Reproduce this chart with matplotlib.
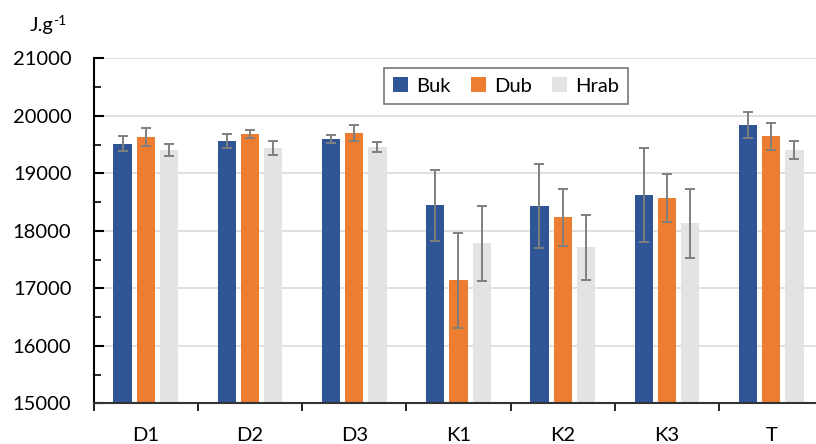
import numpy as np
import matplotlib.pyplot as plt

plt.rcParams['font.family'] = ['Lato', 'DejaVu Sans']

# Heating values per sample site and wood species
sites = ['D1', 'D2', 'D3', 'K1', 'K2', 'K3', 'T']
species = ['Buk', 'Dub', 'Hrab']

buk = [19510, 19561, 19596, 18440, 18428, 18626, 19839]
buk_err = [130, 125, 75, 615, 735, 820, 230]

dub = [19636, 19676, 19700, 17140, 18232, 18567, 19648]
dub_err = [155, 70, 135, 830, 495, 420, 235]

hrab = [19411, 19440, 19458, 17780, 17712, 18133, 19399]
hrab_err = [105, 115, 92, 655, 565, 600, 155]

colors = ['#2F5597', '#ED7D31', '#E3E3E3']

fig = plt.figure(figsize=(8.16, 4.44), dpi=100)
ax = fig.add_axes([0.1148, 0.0917, 0.8852, 0.777])

x = np.arange(len(sites))
step = 0.223
width = 0.175

for i, (vals, errs) in enumerate([(buk, buk_err), (dub, dub_err), (hrab, hrab_err)]):
    ax.bar(x + (i - 1) * step, vals, width, color=colors[i], label=species[i],
           zorder=2, bottom=0)
    ax.errorbar(x + (i - 1) * step, vals, yerr=errs, fmt='none', ecolor='#7F7F7F',
                elinewidth=1.4, capsize=3.3, capthick=1.4, zorder=3)

ax.set_ylim(15000, 21000)
ax.set_xlim(-0.5, 6.43)

ax.set_yticks(np.arange(15000, 21001, 1000))
ax.set_yticks(np.arange(15500, 21000, 1000), minor=True)
ax.tick_params(axis='y', which='major', direction='in', length=7, width=1.5,
               labelsize=14.5, pad=16)
ax.tick_params(axis='y', which='minor', direction='in', length=5, width=1.2)

ax.set_xticks(x)
ax.set_xticklabels(sites)
ax.set_xticks(np.arange(-0.5, 6.5, 1), minor=True)
ax.tick_params(axis='x', which='major', length=0, labelsize=14.5, pad=17)
ax.tick_params(axis='x', which='minor', direction='out', length=6, width=1.2)

ax.grid(axis='y', color='#D9D9D9', lw=1.2, zorder=0)
ax.set_axisbelow(True)

for s in ['top', 'right']:
    ax.spines[s].set_visible(False)
ax.spines['left'].set_linewidth(1.5)
ax.spines['bottom'].set_linewidth(1.5)
ax.spines['bottom'].set_color('#333333')

leg = ax.legend(loc='center', bbox_to_anchor=(0.571, 0.92), ncol=3, fontsize=14.5,
                frameon=True, fancybox=False, edgecolor='#555555',
                handlelength=0.75, handleheight=0.75, handletextpad=0.4,
                columnspacing=1.0, borderpad=0.45)
leg.get_frame().set_linewidth(1.2)

# unit label with a small raised exponent right after it
unit = fig.text(0.036, 0.930, 'J.g', fontsize=14.5, va='baseline')
ax.annotate('-1', xy=(1.0, 1.12), xycoords=unit, fontsize=10,
            ha='left', va='top', annotation_clip=False)

fig.savefig('out.png', dpi=100)
